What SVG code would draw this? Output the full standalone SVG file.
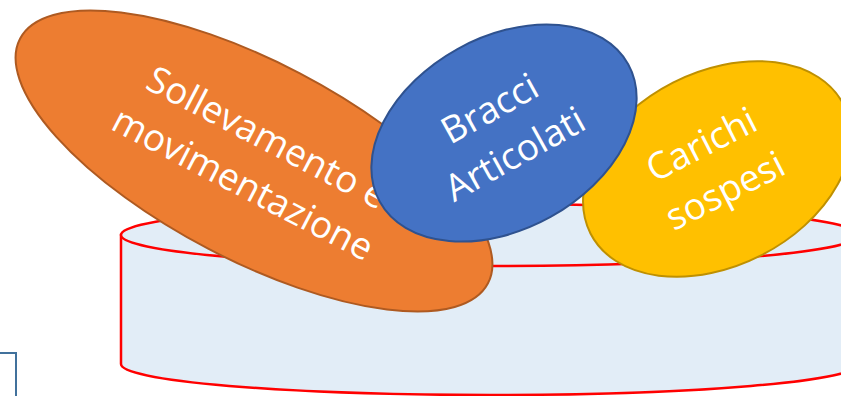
<svg xmlns="http://www.w3.org/2000/svg" width="841" height="396" viewBox="0 0 841 396">
<style>
.lbl{font-family:"Open Sans","Noto Sans","DejaVu Sans",sans-serif;font-size:37px;fill:#FFFFFF;text-anchor:middle}
.cyl{fill:#E2EDF7;stroke:#FF0000;stroke-width:2.5}
</style>
<g id="base">
<path class="cyl" d="M121,235 L121,364 A369,31 0 0 0 859,364 L859,235 Z"/>
<ellipse class="cyl" cx="490" cy="235" rx="369" ry="31"/>
</g>
<g id="frame">
<polyline points="0,353 16,353 16,396" fill="none" stroke="#41719C" stroke-width="2"/>
</g>
<g id="node-sollevamento">
<ellipse cx="254" cy="161" rx="264" ry="99" transform="rotate(27.6 254 161)" fill="#ED7D31" stroke="#AE5A21" stroke-width="2"/>
<text class="lbl" transform="translate(249,172) rotate(27.5)"><tspan x="0" y="-26">Sollevamento e</tspan><tspan x="0" y="26">movimentazione</tspan></text>
</g>
<g id="node-carichi">
<ellipse cx="717" cy="169" rx="142" ry="97" transform="rotate(-27 717 169)" fill="#FFC000" stroke="#BF9000" stroke-width="2"/>
<text class="lbl" transform="translate(719,179) rotate(-27)"><tspan x="0" y="-26">Carichi</tspan><tspan x="0" y="26">sospesi</tspan></text>
</g>
<g id="node-bracci">
<ellipse cx="504" cy="133" rx="142" ry="96" transform="rotate(-29 504 133)" fill="#4472C4" stroke="#2F528F" stroke-width="2"/>
<text class="lbl" transform="translate(508.5,142.5) rotate(-29)"><tspan x="0" y="-26">Bracci</tspan><tspan x="0" y="26">Articolati</tspan></text>
</g>
</svg>
